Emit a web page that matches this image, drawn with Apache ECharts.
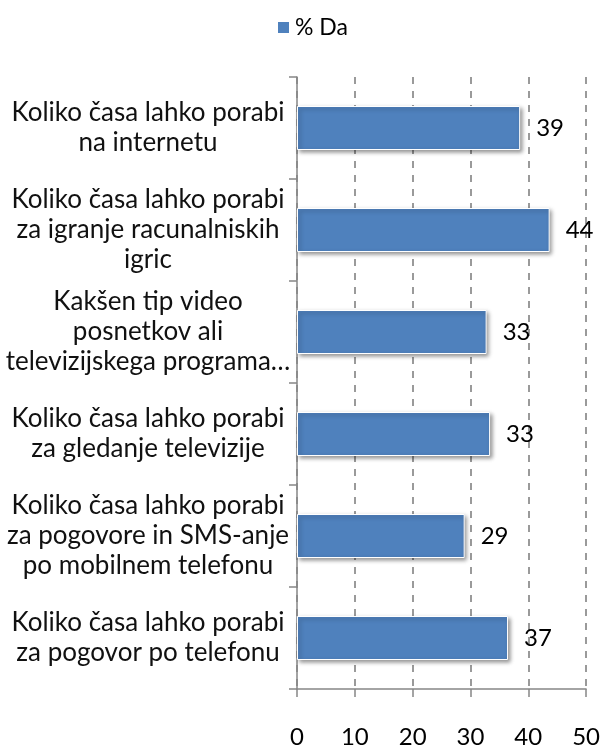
<!DOCTYPE html>
<html>
<head>
<meta charset="utf-8">
<script src="https://cdn.jsdelivr.net/npm/echarts@6/dist/echarts.min.js"></script>
<style>
  html, body { margin: 0; padding: 0; background: #fff; }
  #chart { width: 603px; height: 749px; }
</style>
</head>
<body>
<div id="chart"></div>
<script>
const categories = [
  'Koliko časa lahko porabi\nna internetu',
  'Koliko časa lahko porabi\nza igranje racunalniskih\nigric',
  'Kakšen tip video\nposnetkov ali\ntelevizijskega programa…',
  'Koliko časa lahko porabi\nza gledanje televizije',
  'Koliko časa lahko porabi\nza pogovore in SMS-anje\npo mobilnem telefonu',
  'Koliko časa lahko porabi\nza pogovor po telefonu',
]
const seriesName = '% Da'
const values = [38.6, 43.7, 32.8, 33.4, 29.0, 36.5]
const xTicks = { min: 0, max: 50, interval: 10 }

const FONT = 'Lato, "Liberation Sans", sans-serif'
const chart = echarts.init(document.getElementById('chart'), null, { renderer: 'canvas' })

chart.setOption({
  backgroundColor: '#fff',
  animation: false,
  textStyle: { fontFamily: FONT },
  legend: {
    top: 11,
    left: 271,
    itemWidth: 13,
    itemHeight: 13,
    itemGap: 8,
    textStyle: { fontSize: 23, color: '#000', fontFamily: FONT },
    data: [{ name: seriesName, icon: 'rect' }],
  },
  grid: { left: 297, right: 16, top: 77, bottom: 52, containLabel: false },
  xAxis: {
    type: 'value',
    min: xTicks.min,
    max: xTicks.max,
    interval: xTicks.interval,
    axisLine: { show: true, lineStyle: { color: '#868686', width: 1.5 } },
    axisTick: { show: true, inside: false, length: 8, lineStyle: { color: '#868686', width: 1.5 } },
    axisLabel: { color: '#000', fontSize: 24, margin: 36, fontFamily: FONT },
    splitLine: { show: true, lineStyle: { color: '#7a7a7a', type: [7, 7], width: 1.5 } },
  },
  yAxis: {
    type: 'category',
    inverse: true,
    data: categories,
    axisLine: { show: true, lineStyle: { color: '#868686', width: 1.5 } },
    axisTick: { show: true, length: 8, lineStyle: { color: '#868686', width: 1.5 } },
    axisLabel: {
      color: '#111',
      fontSize: 26,
      lineHeight: 30,
      align: 'center',
      margin: 149,
      fontFamily: FONT,
    },
  },
  series: [
    {
      name: seriesName,
      type: 'bar',
      data: values,
      barWidth: 44,
      itemStyle: {
        color: '#4F81BD',
        borderColor: '#ffffff',
        borderWidth: 1,
        shadowColor: 'rgba(0,0,0,0.4)',
        shadowBlur: 4,
        shadowOffsetX: 2,
        shadowOffsetY: 2,
      },
      label: {
        show: true,
        position: 'right',
        distance: 16,
        color: '#000',
        fontSize: 24,
        fontFamily: FONT,
        formatter: (p) => Math.round(p.value),
      },
    },
  ],
})
</script>
</body>
</html>
